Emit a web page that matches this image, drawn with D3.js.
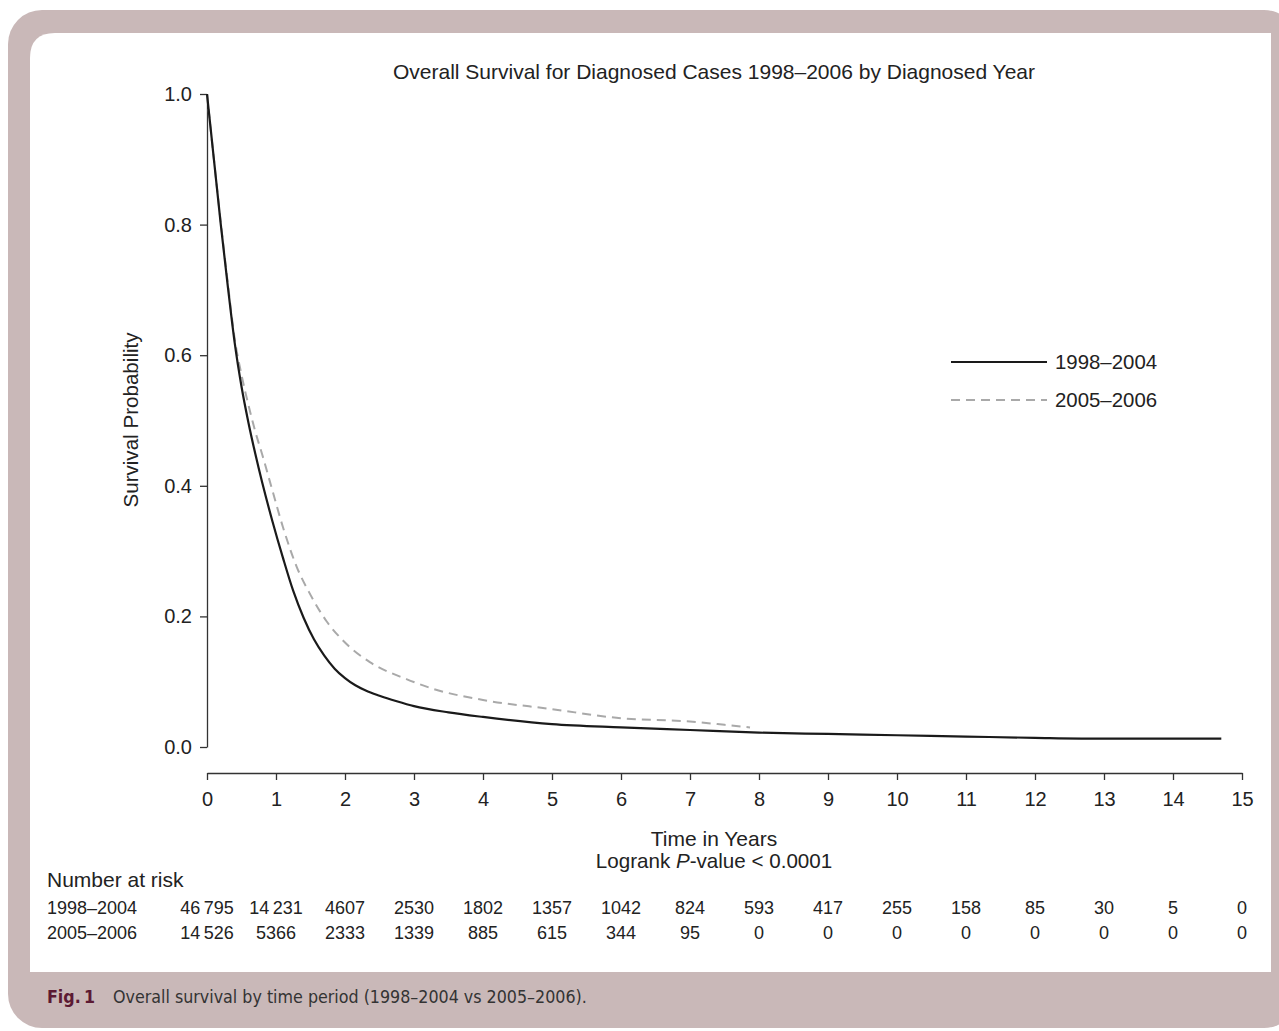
<!DOCTYPE html>
<html><head><meta charset="utf-8">
<script src="https://cdn.jsdelivr.net/npm/d3@7"></script>
<style>
body{margin:0;background:#fff;}
svg text{font-family:"Liberation Sans",Arial,Helvetica,sans-serif;fill:#222;}
</style></head>
<body>
<svg id="c" width="1279" height="1031"></svg>
<script>
// ---- data ----
const seriesNames = ["1998\u20132004", "2005\u20132006"];
const t1998 = [0,0.1,0.2,0.3,0.4,0.5,0.6,0.7,0.8,0.95,1.1,1.25,1.4,1.55,1.7,1.85,2.0,2.15,2.3,2.5,2.75,3.0,3.5,4,5,6,7,8,9,10,11,12,13,14.7];
const s1998 = [1,0.90,0.80,0.707,0.620,0.552,0.497,0.449,0.405,0.345,0.290,0.239,0.198,0.165,0.140,0.120,0.1055,0.0945,0.0865,0.0785,0.070,0.0625,0.053,0.046,0.035,0.030,0.026,0.022,0.020,0.018,0.016,0.014,0.0127,0.0127];
const t2005 = [0,0.1,0.2,0.3,0.4,0.5,0.6,0.7,0.8,0.95,1.1,1.3,1.5,1.73,2.0,2.36,2.89,3.28,4,5,6,7,7.5,7.87];
const s2005 = [1,0.90,0.803,0.712,0.626,0.570,0.524,0.483,0.448,0.392,0.337,0.276,0.233,0.193,0.160,0.130,0.104,0.089,0.072,0.058,0.044,0.039,0.034,0.030];
const xTicks = [0,1,2,3,4,5,6,7,8,9,10,11,12,13,14,15];
const yTicks = [0,0.2,0.4,0.6,0.8,1.0];
const risk1998 = ["46\u2009795","14\u2009231","4607","2530","1802","1357","1042","824","593","417","255","158","85","30","5","0"];
const risk2005 = ["14\u2009526","5366","2333","1339","885","615","344","95","0","0","0","0","0","0","0","0"];

const svg = d3.select("#c");
// ---- frame ----
const pink = "#c9b8b8";
svg.append("rect").attr("x",8).attr("y",10).attr("width",1290).attr("height",1018).attr("rx",34).attr("fill",pink);
svg.append("path").attr("d","M30,972 L30,58 Q30,33 55,33 L1271,33 L1271,972 Z").attr("fill","#fff");

// ---- scales ----
const x = d3.scaleLinear().domain([0,15]).range([207,1242]);
const y = d3.scaleLinear().domain([0,1]).range([747,94]);

const axisColor = "#333";
const gx = svg.append("g").attr("transform","translate(0,773)")
  .call(d3.axisBottom(x).tickValues(xTicks).tickFormat(d3.format("d")).tickSize(7).tickSizeOuter(0).tickPadding(12));
const gy = svg.append("g").attr("transform","translate(207,0)")
  .call(d3.axisLeft(y).tickValues(yTicks).tickFormat(d3.format(".1f")).tickSize(7).tickSizeOuter(0).tickPadding(8));
[gx,gy].forEach(g=>{
  g.selectAll("path,line").attr("stroke",axisColor).attr("stroke-width",1.3);
  g.selectAll("text").attr("font-size",20).attr("fill","#222").style("font-family","'Liberation Sans',Arial,sans-serif");
});

// ---- curves ----
const line = d3.line().x(d=>x(d[0])).y(d=>y(d[1])).curve(d3.curveMonotoneX);
svg.append("path").datum(t2005.map((t,i)=>[t,s2005[i]])).attr("d",line)
  .attr("fill","none").attr("stroke","#a9a9a9").attr("stroke-width",2).attr("stroke-dasharray","9,6");
svg.append("path").datum(t1998.map((t,i)=>[t,s1998[i]])).attr("d",line)
  .attr("fill","none").attr("stroke","#1a1a1a").attr("stroke-width",2.2);

// ---- legend ----
const lg = [{y:362,c:"#1a1a1a",d:null,w:2},{y:400,c:"#a9a9a9",d:"9,6",w:2}];
lg.forEach((l,i)=>{
  svg.append("line").attr("x1",951).attr("x2",1047).attr("y1",l.y).attr("y2",l.y)
    .attr("stroke",l.c).attr("stroke-width",l.w).attr("stroke-dasharray",l.d);
  svg.append("text").attr("x",1055).attr("y",l.y+7).attr("font-size",20.4).text(seriesNames[i]);
});

// ---- titles ----
svg.append("text").attr("x",714).attr("y",79).attr("text-anchor","middle").attr("font-size",21)
  .text("Overall Survival for Diagnosed Cases 1998\u20132006 by Diagnosed Year");
svg.append("text").attr("transform","translate(138,420) rotate(-90)").attr("text-anchor","middle").attr("font-size",20.6)
  .text("Survival Probability");
svg.append("text").attr("x",714).attr("y",846).attr("text-anchor","middle").attr("font-size",21).text("Time in Years");
const lr = svg.append("text").attr("x",714).attr("y",868).attr("text-anchor","middle").attr("font-size",20.6);
lr.append("tspan").text("Logrank ");
lr.append("tspan").attr("font-style","italic").text("P");
lr.append("tspan").text("-value < 0.0001");

// ---- number at risk ----
svg.append("text").attr("x",47).attr("y",887).attr("font-size",21).text("Number at risk");
[[risk1998,914],[risk2005,939]].forEach(([row,yy],i)=>{
  svg.append("text").attr("x",47).attr("y",yy).attr("font-size",18).text(seriesNames[i]);
  svg.selectAll(null).data(row).enter().append("text")
    .attr("x",(d,j)=>x(xTicks[j])).attr("y",yy).attr("text-anchor","middle").attr("font-size",18).text(d=>d);
});

// ---- caption ----
const cap = svg.append("text").attr("x",47).attr("y",1003).attr("font-size",17.7)
  .style("font-family","'Liberation Sans Narrow','DejaVu Sans Condensed',sans-serif");
cap.append("tspan").attr("font-weight","bold").style("fill","#5c1a33").text("Fig.\u20091");
cap.append("tspan").attr("x",113).style("fill","#333").text("Overall survival by time period (1998\u20132004 vs 2005\u20132006).");
</script>
</body></html>
